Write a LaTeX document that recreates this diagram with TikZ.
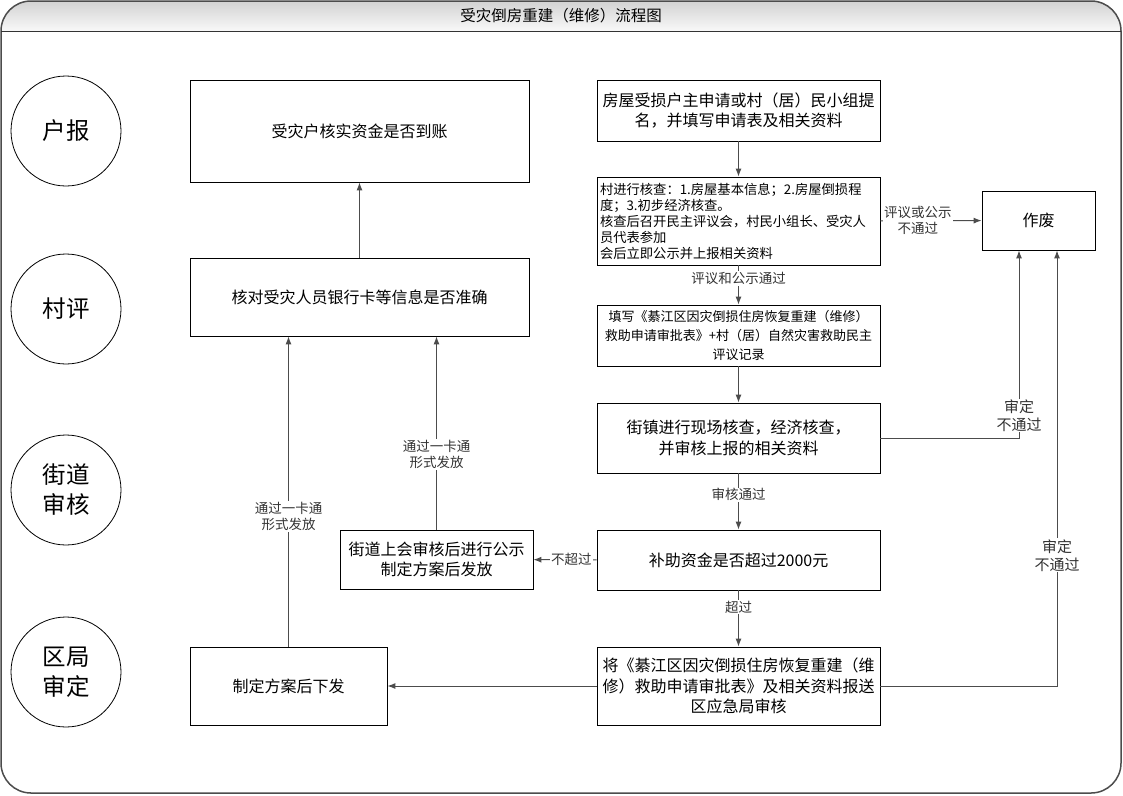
\documentclass[tikz,border=0pt]{standalone}
\usepackage{fontspec}
\setmainfont{Noto Sans CJK SC}
\usetikzlibrary{arrows.meta,calc}
\newcommand\fsz[2]{\fontsize{#1}{#2}\selectfont}
\begin{document}
\begin{tikzpicture}[x=1pt,y=-1pt,
  box/.style={draw=black, line width=0.8pt, align=center, inner sep=2pt, font=\fsz{16}{20.5}},
  lane/.style={circle, draw=black, line width=0.8pt, minimum size=110pt, inner sep=0pt, align=center, font=\fsz{23.5}{30}},
  conn/.style={draw=black!70, line width=1pt, -{Latex[length=8pt,width=6pt]}},
  lbl/.style={fill=white, font=\fsz{13.5}{16}, align=center, inner sep=1pt, text=black!80},
  lblb/.style={lbl, font=\fsz{15}{18}}]
\useasboundingbox (0,0) rectangle (1123,795);
% frame and title bar
\shade[top color=gray!35, bottom color=gray!5]
  (1,31) [rounded corners=30pt]-- (1,1) -- (1121,1) [sharp corners]-- (1121,31) -- cycle;
\draw[black!70, line width=1.5pt, rounded corners=30pt] (1,1) rectangle (1121,793);
\draw[black!80, line width=1pt] (1,31) -- (1121,31);
\node[font=\fsz{15.5}{18}] (title) at (561,16) {受灾倒房重建（维修）流程图};
% lanes
\node[lane] (c1) at (66,131) {户报};
\node[lane] (c2) at (66,309) {村评};
\node[lane] (c3) at (66,490) {街道\\审核};
\node[lane] (c4) at (66,672) {区局\\审定};
% boxes
\node[box, minimum width=339pt, minimum height=102pt] (A) at (359.5,131) {受灾户核实资金是否到账};
\node[box, minimum width=339pt, minimum height=78pt] (B) at (359.5,297) {核对受灾人员银行卡等信息是否准确};
\node[box, minimum width=283pt, minimum height=61pt] (C) at (738.5,110.5) {房屋受损户主申请或村（居）民小组提\\名，并填写申请表及相关资料};
\node[box, minimum width=283pt, minimum height=88pt, align=left, font=\fsz{13.3}{16}, text width=277pt] (D) at (738.5,221) {村进行核查：1.房屋基本信息；2.房屋倒损程\\度；3.初步经济核查。\\核查后召开民主评议会，村民小组长、受灾人\\员代表参加\\会后立即公示并上报相关资料};
\node[box, minimum width=113pt, minimum height=59pt] (E) at (1038.5,220.5) {作废};
\node[box, minimum width=283pt, minimum height=61pt, font=\fsz{13}{19}] (F) at (738.5,335.5) {填写《綦江区因灾倒损住房恢复重建（维修）\\救助申请审批表》+村（居）自然灾害救助民主\\评议记录};
\node[box, minimum width=283pt, minimum height=70pt] (G) at (738.5,438) {街镇进行现场核查，经济核查，\\并审核上报的相关资料};
\node[box, minimum width=283pt, minimum height=60pt] (H) at (738.5,560) {补助资金是否超过2000元};
\node[box, minimum width=193pt, minimum height=59pt] (I) at (436.5,559.5) {街道上会审核后进行公示\\制定方案后发放};
\node[box, minimum width=283pt, minimum height=78pt] (J) at (738.5,686) {将《綦江区因灾倒损住房恢复重建（维\\修）救助申请审批表》及相关资料报送\\区应急局审核};
\node[box, minimum width=197pt, minimum height=78pt] (K) at (288.5,686) {制定方案后下发};
% connectors
\draw[conn] (C) -- (D);
\draw[conn] (D) -- node[lbl, pos=0.33]{评议和公示通过} (F);
\draw[conn] (F) -- (G);
\draw[conn] (G) -- node[lbl, pos=0.38]{审核通过} (H);
\draw[conn] (H) -- node[lbl, pos=0.3]{超过} (J);
\draw[conn] (H) -- node[lbl, pos=0.4]{不超过} (I);
\draw[conn] (D) -- node[lbl, pos=0.37]{评议或公示\\不通过} (E);
\draw[conn] (G.east) -| node[lblb, pos=0.56]{审定\\不通过} ([xshift=-19.5pt]E.south);
\draw[conn] (J.east) -| node[lblb, pos=0.65]{审定\\不通过} ([xshift=18.5pt]E.south);
\draw[conn] (J) -- (K);
\draw[conn] (K.north) -- node[lbl, pos=0.42]{通过一卡通\\形式发放} (K.north |- B.south);
\draw[conn] (I.north) -- node[lbl, pos=0.39]{通过一卡通\\形式发放} (I.north |- B.south);
\draw[conn] (B) -- (A);
\end{tikzpicture}
\end{document}
